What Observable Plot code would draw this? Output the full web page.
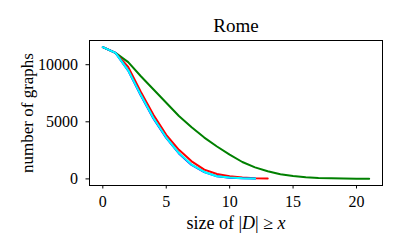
<!DOCTYPE html>
<html><head><meta charset="utf-8">
<script src="https://cdn.jsdelivr.net/npm/d3@7"></script>
<script src="https://cdn.jsdelivr.net/npm/@observablehq/plot@0.6"></script>
<style>body{margin:0;background:#fff}</style>
</head><body><div id="chart"></div>
<script>
const title = "Rome";
const xLabel = "size of |D| ≥ x";
const yLabel = "number of graphs";
const xTicks = [0, 5, 10, 15, 20];
const yTicks = [0, 5000, 10000];
const greenValues = [11540, 11040, 10230, 8990, 7830, 6670, 5510, 4520, 3620, 2840, 2120, 1480, 1010, 670, 410, 260, 145, 87, 58, 35, 22, 15];
const redValues = [11540, 11040, 9800, 7620, 5590, 3860, 2550, 1540, 810, 435, 232, 116, 58, 29];
const blueValues = [11540, 11040, 9480, 7300, 5270, 3590, 2230, 1220, 590, 222, 110, 52, 25];
const cyanValues = [11540, 11040, 9510, 7340, 5310, 3620, 2260, 1250, 610, 232, 116, 58, 29];
const seriesNames = ["green", "red", "blue", "cyan"];
const seriesColors = ["#008000", "#ff0000", "#0000ff", "#17becf"];

const allSeries = [greenValues, redValues, blueValues, cyanValues];
const rows = allSeries.flatMap((vals, si) => vals.map((v, i) => ({s: seriesNames[si], x: i, y: v})));

const font = "'Liberation Serif', 'DejaVu Serif', serif";
const plot = Plot.plot({
  width: 400, height: 250,
  marginLeft: 89, marginRight: 18, marginTop: 40, marginBottom: 65,
  style: {fontFamily: font, fontSize: "16px"},
  x: {domain: [-1.05, 22.05], label: null},
  y: {domain: [-578, 12120], label: null},
  color: {domain: seriesNames, range: seriesColors},
  marks: [
    Plot.axisX({ticks: xTicks, tickFormat: () => "", tickSize: 3.5, label: null}),
    Plot.axisY({ticks: yTicks, tickFormat: () => "", tickSize: 3.5, label: null}),
    Plot.text(xTicks, {x: d => d, frameAnchor: "bottom", lineAnchor: "top", dy: 10.4, text: d => String(d), fontSize: 16}),
    Plot.text(yTicks, {y: d => d, frameAnchor: "left", textAnchor: "end", lineAnchor: "middle", dx: -11.5, text: d => String(d), fontSize: 16}),
    Plot.line(rows, {x: "x", y: "y", z: "s", stroke: "s", strokeWidth: 2}),
    Plot.frame({stroke: "#000", strokeWidth: 1}),
    Plot.text([title], {frameAnchor: "top", lineAnchor: "top", dy: -22.5, text: d => d, fontSize: 19}),
    Plot.text([yLabel], {frameAnchor: "left", textAnchor: "middle", dx: -62, rotate: -90, text: d => d, fontSize: 17}),
    Plot.text([xLabel], {frameAnchor: "bottom", lineAnchor: "bottom", dy: 43, text: d => d, fontSize: 18, className: "xlab"})
  ]
});
document.getElementById("chart").appendChild(plot);
// italicize D and x in the x label
d3.select(plot).selectAll(".xlab text").each(function() {
  const t = d3.select(this);
  t.text(null);
  t.append("tspan").text("size of |");
  t.append("tspan").attr("font-style", "italic").text("D");
  t.append("tspan").text("| ≥ ");
  t.append("tspan").attr("font-style", "italic").text("x");
});
</script>
</body></html>
